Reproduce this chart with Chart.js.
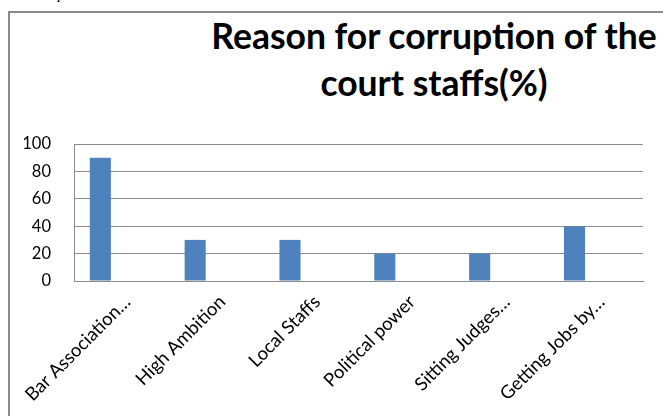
<!DOCTYPE html>
<html>
<head>
<meta charset="utf-8">
<script src="https://cdn.jsdelivr.net/npm/chart.js@4.4.1/dist/chart.umd.min.js"></script>
<style>
    html, body { margin: 0; padding: 0; background: #fff; overflow: hidden; }
    body { width: 663px; height: 416px; position: relative; }
    /* tail of the paragraph above the figure, clipped by the page edge */
    .prev-line { position: absolute; left: 25px; top: -14px; font: 15px/16px "Liberation Serif", serif; color: #000; }
    .frame { position: absolute; left: 8px; top: 11px; width: 720px; height: 460px; border: 2px solid #8a8a8a; box-sizing: border-box; }
    .chart-title { position: absolute; left: 184px; top: 12px; width: 500px; text-align: center;
        font: bold 35.5px/47px "Lato", sans-serif; color: #000; }
    #chart { position: absolute; left: 0; top: 0; }
</style>
</head>
<body>
<div class="prev-line">corrupted.</div>
<div class="frame"></div>
<div class="chart-title">Reason for corruption of the<br>court staffs(%)</div>
<canvas id="chart" width="663" height="416"></canvas>
<script>
// --- DATA ---
const categories = ['Bar Association…', 'High Ambition', 'Local Staffs', 'Political power', 'Sitting Judges…', 'Getting Jobs by…'];
const percentValues = [90, 30, 30, 20, 20, 40];
// two more series are in the workbook but hold no values; they still take bar slots
const emptySeries2 = [null, null, null, null, null, null];
const emptySeries3 = [null, null, null, null, null, null];
const yTicks = [0, 20, 40, 60, 80, 100];

const GRID_GREY = '#8c8c8c';

const ctx = document.getElementById('chart').getContext('2d');
new Chart(ctx, {
    type: 'bar',
    data: {
        labels: categories,
        datasets: [
            { label: 'Series1', data: percentValues, backgroundColor: '#4f81bd' },
            { label: 'Series2', data: emptySeries2, backgroundColor: '#c0504d' },
            { label: 'Series3', data: emptySeries3, backgroundColor: '#9bbb59' }
        ]
    },
    options: {
        responsive: false,
        animation: false,
        categoryPercentage: 0.667,
        barPercentage: 1,
        layout: { padding: { top: 144, left: 24, right: 20, bottom: 0 } },
        plugins: {
            legend: { display: false },
            tooltip: { enabled: false },
            title: { display: false }
        },
        scales: {
            x: {
                grid: { display: false },
                border: { display: true, color: GRID_GREY, width: 1 },
                ticks: {
                    color: '#000',
                    font: { family: 'Lato', size: 18.5 },
                    maxRotation: 45,
                    minRotation: 45,
                    padding: 2,
                    labelOffset: 6,
                    autoSkip: false
                },
                afterFit: (scale) => { scale.height = 135; }
            },
            y: {
                min: 0,
                max: 100,
                afterBuildTicks: (scale) => { scale.ticks = yTicks.map(v => ({ value: v })); },
                grid: { color: GRID_GREY, drawTicks: false },
                border: { display: true, color: GRID_GREY, width: 1 },
                ticks: {
                    color: '#000',
                    font: { family: 'Lato', size: 16.5 },
                    padding: 23
                },
                afterFit: (scale) => { scale.width = 50; }
            }
        }
    }
});
</script>
</body>
</html>
